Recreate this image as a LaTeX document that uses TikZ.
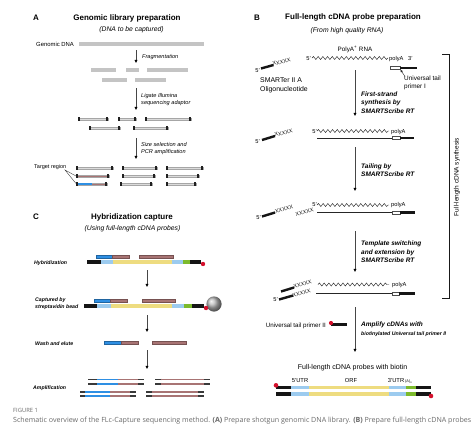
\documentclass[tikz,border=0pt]{standalone}
\usepackage{fontspec}
\setmainfont{Liberation Sans}
\newfontfamily\capfont{Open Sans}
\usetikzlibrary{arrows.meta,decorations.pathmorphing}
\definecolor{mauve}{HTML}{A87474}
\definecolor{tblue}{HTML}{2E8FE3}
\definecolor{lblue}{HTML}{9CCBEF}
\definecolor{pyellow}{HTML}{EEDC80}
\definecolor{pgreen}{HTML}{7CBA2C}
\definecolor{pblack}{HTML}{151515}
\definecolor{bred}{HTML}{D4102C}
\definecolor{gbarc}{HTML}{C4C4C4}
\definecolor{captxt}{HTML}{6A6A6A}
\newcommand\myseg[5]{\fill[#4] (#1,#3-#5) rectangle (#2,#3+#5);}
\newcommand\myad[4][gray!28]{%
  \filldraw[fill=#1,draw=gray!70,line width=0.3pt] (#2,#4-1.3) rectangle (#3,#4+1.3);
  \fill[gray!25!black] (#2,#4-1.7) rectangle (#2+2,#4+1.7);
  \fill[gray!25!black] (#3-2,#4-1.7) rectangle (#3,#4+1.7);}
\newcommand\myfrag[3]{\filldraw[fill=#3,draw=#3!70!black,line width=0.3pt] (#1,#2-1.5) rectangle ++(17,3);}
% amplified strand: x1 x2 y, colored part c1 from a to b, c2 from b to c
\newcommand\mystrand[8]{%
  \myseg{#1}{#2}{#3}{gray!45!black}{0.95}
  \myseg{#4}{#5}{#3}{#7}{0.95}
  \myseg{#5}{#6}{#3}{#8}{0.95}}
\begin{document}
\begin{tikzpicture}[x=1pt,y=-1pt,
  ttl/.style={font=\fontsize{8}{9.6}\selectfont\bfseries,inner sep=0,anchor=base},
  sub/.style={font=\fontsize{6.8}{8}\selectfont\itshape,inner sep=0,anchor=base},
  plet/.style={font=\fontsize{8}{9.6}\selectfont\bfseries,inner sep=0,anchor=base west},
  la/.style={font=\fontsize{5.6}{6.8}\selectfont\itshape,inner sep=0,anchor=base west},
  lr/.style={font=\fontsize{5.7}{6.8}\selectfont,inner sep=0,anchor=base west},
  lb/.style={font=\fontsize{6.5}{7.8}\selectfont\bfseries\itshape,inner sep=0,anchor=base west},
  lc/.style={font=\fontsize{5.2}{6.2}\selectfont\bfseries\itshape,inner sep=0,anchor=base west},
  xx/.style={font=\fontsize{5.5}{6}\selectfont,inner sep=0,rotate=15,text=gray!20!black},
  flow/.style={draw=gray!55!black,line width=0.45pt,-{Triangle[length=3.2pt,width=2.8pt,color=black]}},
  wavy/.style={decorate,decoration={snake,amplitude=1.5pt,segment length=4.7pt},line width=0.45pt,draw=gray!30!black},
  thick bar/.style={line width=2.4pt,pblack},
  cstrand/.style={line width=0.6pt,draw=gray!30!black}]
\useasboundingbox (0,0) rectangle (474,429);
\fill[white] (0,0) rectangle (474,429);

% ================= Panel A =================
\node[plet] (Alet) at (33,20) {A};
\node[ttl] (Attl) at (127,20) {Genomic library preparation};
\node[sub] (Asub) at (131.5,31.5) {(DNA to be captured)};
\node[lr,font=\fontsize{5.9}{7}\selectfont] (gdna) at (36,46) {Genomic DNA};
\myseg{79}{204}{44}{gbarc}{1.8}
\coordinate (aA1s) at (136,50); \coordinate (aA1e) at (136,63);
\draw[flow] (aA1s) -- (aA1e);
\node[la] (frag) at (142,58) {Fragmentation};
\myseg{91}{116}{70}{gbarc}{1.6}
\myseg{126}{139}{70}{gbarc}{1.6}
\myseg{147}{188}{70}{gbarc}{1.6}
\myseg{102}{127}{80}{gbarc}{1.6}
\myseg{135}{166}{80}{gbarc}{1.6}
\coordinate (aA2s) at (136,88); \coordinate (aA2e) at (136,110);
\draw[flow] (aA2s) -- (aA2e);
\node[la] (lig1) at (141,97) {Ligate Illumina};
\node[la] (lig2) at (141,104) {sequencing adaptor};
\myad{78}{108}{119}
\myad{118}{136}{119}
\myad{145}{191}{119}
\myad{89}{120}{128}
\myad{133}{168}{128}
\coordinate (aA3s) at (136,138); \coordinate (aA3e) at (136,159);
\draw[flow] (aA3s) -- (aA3e);
\node[la] (siz1) at (141,146) {Size selection and};
\node[la] (siz2) at (141,153) {PCR amplification};
% target rows
\myad{76}{113}{168}
\myad[mauve]{76}{109}{176}
\myad[mauve]{76}{107}{184}
\fill[tblue] (78,182.7) rectangle (92,185.3);
\myad{122}{157}{168}
\myad{122}{155}{176}
\myad{120}{152}{184}
\myad{166}{203}{168}
\myad{166}{199}{176}
\myad{166}{196}{184}
\node[lr,font=\fontsize{5.5}{6.5}\selectfont] (tgt) at (34,168) {Target region};
\coordinate (tg0) at (65,170); \coordinate (tg1) at (76,176); \coordinate (tg2) at (76,183.5);
\draw[gray!40!black,line width=0.35pt] (tg1) -- (tg0) -- (tg2);

% ================= Panel C =================
\node[plet] (Clet) at (33,219) {C};
\node[ttl] (Cttl) at (132,219) {Hybridization capture};
\node[sub] (Csub) at (132.5,230.5) {(Using full-length cDNA probes)};
% hybridization
\node[lc] (hyb) at (34,264) {Hybridization};
\myseg{87}{101}{262}{pblack}{1.8}
\myseg{101}{113}{262}{lblue}{1.8}
\myseg{113}{172}{262}{pyellow}{1.8}
\myseg{172}{183}{262}{lblue}{1.8}
\myseg{183}{190}{262}{pgreen}{1.8}
\myseg{190}{201}{262}{pblack}{1.8}
\fill[bred] (203,264) circle (2.2pt);
\myfrag{96}{257}{tblue}
\myfrag{112}{257}{mauve}
\filldraw[fill=mauve,draw=mauve!70!black,line width=0.3pt] (139,255.5) rectangle (173,258.5);
\coordinate (aC1s) at (147,270); \coordinate (aC1e) at (147,287);
\draw[flow] (aC1s) -- (aC1e);
% captured
\node[lc] (cap1) at (35,301) {Captured by};
\node[lc] (cap2) at (35,308.5) {streptavidin bead};
\myseg{84}{97}{306}{pblack}{1.8}
\myseg{97}{111}{306}{lblue}{1.8}
\myseg{111}{172}{306}{pyellow}{1.8}
\myseg{172}{184}{306}{lblue}{1.8}
\myseg{184}{192}{306}{pgreen}{1.8}
\myseg{192}{204}{306}{pblack}{1.8}
\shade[ball color=gray!55] (214,304) circle (7.6pt);
\fill[bred] (206,308) circle (2.2pt);
\myfrag{94}{301}{tblue}
\myfrag{110}{301}{mauve}
\filldraw[fill=mauve,draw=mauve!70!black,line width=0.3pt] (142,299.5) rectangle (175,302.5);
\coordinate (aC2s) at (147,315); \coordinate (aC2e) at (147,332);
\draw[flow] (aC2s) -- (aC2e);
% wash
\node[lc] (wash) at (35,345) {Wash and elute};
\myfrag{104}{343}{tblue}
\myfrag{121}{343}{mauve}
\filldraw[fill=mauve,draw=mauve!70!black,line width=0.3pt] (152,341.5) rectangle (186,344.5);
\coordinate (aC3s) at (147,350); \coordinate (aC3e) at (147,369);
\draw[flow] (aC3s) -- (aC3e);
% amplification
\node[lc] (ampl) at (33,389) {Amplification};
\foreach \yy in {379.5,383.8}{
  \mystrand{88}{144}{\yy}{97}{118}{138}{tblue}{mauve}
  \mystrand{155}{210}{\yy}{161}{161}{204}{mauve}{mauve}}
\foreach \yy in {391.8,396}{
  \mystrand{80}{136}{\yy}{85}{110}{130}{tblue}{mauve}
  \mystrand{146}{204}{\yy}{152}{152}{198}{mauve}{mauve}}

% ================= Panel B =================
\node[plet] (Blet) at (254,20) {B};
\node[ttl] (Bttl) at (353,19.5) {Full-length cDNA probe preparation};
\node[sub] (Bsub) at (347,32) {(From high quality RNA)};
\node[lr,font=\fontsize{6.3}{7.5}\selectfont,anchor=base] (polyrna) at (355,51) {PolyA\textsuperscript{+} RNA};
% row 1
\node[lr,anchor=base east] (r1five) at (311,60.5) {5'};
\coordinate (r1w0) at (312,58); \coordinate (r1w1) at (388,58);
\draw[wavy] (r1w0) -- (r1w1);
\node[lr] (r1pa) at (389,60.5) {polyA};
\node[lr] (r1three) at (408,60.5) {3'};
\filldraw[fill=white,draw=gray!60!black,line width=0.35pt] (390,66.5) rectangle (400,69.5);
\coordinate (p1a) at (400,68); \coordinate (p1b) at (417,68);
\draw[thick bar] (p1a) -- (p1b);
\node[lr,font=\fontsize{6.4}{8}\selectfont,anchor=north west,align=left] (utp1) at (404,76) {Universal tail\\primer I};
\coordinate (ua0) at (405,76.5); \coordinate (ua1) at (400.5,69.8);
\draw[gray!30!black,line width=0.4pt,-{Triangle[length=2.4pt,width=2.2pt]}] (ua0) -- (ua1);
% smarter oligo 1
\node[lr,anchor=base east] (o1five) at (260,72) {5'};
\coordinate (o1a) at (261,68.5); \coordinate (o1b) at (273.5,65);
\draw[thick bar] (o1a) -- (o1b);
\node[xx,anchor=base west] (o1x) at (273,66) {XXXXX};
\node[lr,font=\fontsize{6.9}{8.8}\selectfont,anchor=north west,align=left] (smart) at (260,77.5) {SMARTer II A\\Oligonucleotide};
% arrow 1
\coordinate (aB1s) at (355,70); \coordinate (aB1e) at (355,116);
\draw[flow] (aB1s) -- (aB1e);
\node[lb] (b1l1) at (361,96) {First-strand};
\node[lb] (b1l2) at (361,104.5) {synthesis by};
\node[lb] (b1l3) at (361,113) {SMARTScribe RT};
% row 2
\node[lr,anchor=base east] (r2five) at (317,133) {5'};
\coordinate (r2w0) at (317,131); \coordinate (r2w1) at (389,131);
\draw[wavy] (r2w0) -- (r2w1);
\node[lr] (r2pa) at (391,133) {polyA};
\coordinate (c2a) at (317,138); \coordinate (c2b) at (392,138);
\draw[cstrand] (c2a) -- (c2b);
\filldraw[fill=white,draw=gray!60!black,line width=0.35pt] (392,136.5) rectangle (400,139.5);
\coordinate (c2c) at (400,138); \coordinate (c2d) at (414,138);
\draw[thick bar] (c2c) -- (c2d);
\node[lr,anchor=base east] (o2five) at (260,143) {5'};
\coordinate (o2a) at (262,140); \coordinate (o2b) at (275,136);
\draw[thick bar] (o2a) -- (o2b);
\node[xx,anchor=base west] (o2x) at (275,137) {XXXXX};
% arrow 2
\coordinate (aB2s) at (355,147); \coordinate (aB2e) at (355,191);
\draw[flow] (aB2s) -- (aB2e);
\node[lb] (b2l1) at (361,168.5) {Tailing by};
\node[lb] (b2l2) at (361,176) {SMARTScribe RT};
% row 3
\node[lr,anchor=base east] (r3five) at (317,206.5) {5'};
\coordinate (r3w0) at (317,205); \coordinate (r3w1) at (389,205);
\draw[wavy] (r3w0) -- (r3w1);
\node[lr] (r3pa) at (391,206.5) {polyA};
\node[xx,anchor=base west] (r3x) at (296,216.5) {XXXXX};
\coordinate (c3a) at (317,212.5); \coordinate (c3b) at (392,212.5);
\draw[cstrand] (c3a) -- (c3b);
\filldraw[fill=white,draw=gray!60!black,line width=0.35pt] (392,211) rectangle (400,214);
\coordinate (c3c) at (400,212.5); \coordinate (c3d) at (415,212.5);
\draw[thick bar] (c3c) -- (c3d);
\node[lr,anchor=base east] (o3five) at (261,219) {5'};
\coordinate (o3a) at (262,216.5); \coordinate (o3b) at (275,212.5);
\draw[thick bar] (o3a) -- (o3b);
\node[xx,anchor=base west] (o3x) at (275.5,213.5) {XXXXX};
% arrow 3
\coordinate (aB3s) at (355,231); \coordinate (aB3e) at (355,272);
\draw[flow] (aB3s) -- (aB3e);
\node[lb] (b3l1) at (361,245.5) {Template switching};
\node[lb] (b3l2) at (361,254) {and extension by};
\node[lb] (b3l3) at (361,262.5) {SMARTScribe RT};
% row 4
\coordinate (o4a) at (281,291.5); \coordinate (o4b) at (294,287.5);
\draw[thick bar] (o4a) -- (o4b);
\node[xx,anchor=base west] (o4x) at (294,288.3) {XXXXX};
\coordinate (r4w0) at (318,284.5); \coordinate (r4w1) at (389,284.5);
\draw[wavy] (r4w0) -- (r4w1);
\node[lr] (r4pa) at (392,286) {polyA};
\node[lr,anchor=base east] (r4five) at (278,301) {5'};
\coordinate (o5a) at (279,299.5); \coordinate (o5b) at (293,295.5);
\draw[thick bar] (o5a) -- (o5b);
\node[xx,anchor=base west] (o5x) at (293,297.2) {XXXXX};
\coordinate (c4a) at (316,293.5); \coordinate (c4b) at (392,293.5);
\draw[cstrand] (c4a) -- (c4b);
\filldraw[fill=white,draw=gray!60!black,line width=0.35pt] (392,292) rectangle (399,295);
\coordinate (c4c) at (399,293.5); \coordinate (c4d) at (415,293.5);
\draw[thick bar] (c4c) -- (c4d);
% bracket
\coordinate (br0) at (442,54); \coordinate (br1) at (449,54);
\coordinate (br2) at (449,298); \coordinate (br3) at (442,298);
\draw[gray!20!black,line width=0.5pt] (br0) -- (br1) -- (br2) -- (br3);
\node[font=\fontsize{6.5}{7.5}\selectfont,rotate=90,inner sep=0] (brl) at (457,177) {Full-length cDNA synthesis};
% arrow 4
\coordinate (aB4s) at (355,307); \coordinate (aB4e) at (355,352);
\draw[flow] (aB4s) -- (aB4e);
\node[lb] (b4l1) at (361,326.5) {Amplify cDNAs with};
\node[lb,font=\fontsize{5.2}{6}\selectfont\bfseries\itshape] (b4l2) at (361,335) {biotinylated Universal tail primer II};
\node[lr,font=\fontsize{6.2}{7}\selectfont,anchor=base east] (utp2) at (326,327) {Universal tail primer II};
\coordinate (u2a) at (331,324.5); \coordinate (u2b) at (347,324.5);
\draw[thick bar] (u2a) -- (u2b);
\fill[bred] (331,323) circle (2.1pt);
% final probes
\node[lr,font=\fontsize{7}{8}\selectfont,anchor=base] (fin) at (352.5,369.5) {Full-length cDNA probes with biotin};
\node[lr,font=\fontsize{5.8}{7}\selectfont,anchor=base] (utr5) at (300,382) {5'UTR};
\node[lr,font=\fontsize{5.8}{7}\selectfont,anchor=base] (orf) at (351,382) {ORF};
\node[lr,font=\fontsize{5.8}{7}\selectfont,anchor=base] (utr3) at (396,382) {3'UTR};
\node[lr,font=\fontsize{3.8}{4.5}\selectfont] (polyan) at (405,382) {(A)\textsubscript{n}};
\foreach \yy in {387.3,394}{
  \myseg{276}{291}{\yy}{pblack}{1.8}
  \myseg{291}{309}{\yy}{lblue}{1.8}
  \myseg{309}{389}{\yy}{pyellow}{1.8}
  \myseg{389}{406}{\yy}{lblue}{1.8}
  \myseg{406}{416}{\yy}{pgreen}{1.8}
  \myseg{416}{431}{\yy}{pblack}{1.8}}
\fill[bred] (276,385.3) circle (2.3pt);
\fill[bred] (431,396) circle (2.3pt);

% ================= Caption =================
\node[font=\capfont\fontsize{5.8}{6.5}\selectfont,text=captxt,inner sep=0,anchor=base west] (figno) at (13,412) {FIGURE 1};
\node[font=\capfont\fontsize{7.1}{8}\selectfont,text=captxt,inner sep=0,anchor=base west] (capt) at (13,422.5) {Schematic overview of the FLc-Capture sequencing method. \textbf{(A)} Prepare shotgun genomic DNA library. \textbf{(B)} Prepare full-length cDNA probes};
\end{tikzpicture}
\end{document}
